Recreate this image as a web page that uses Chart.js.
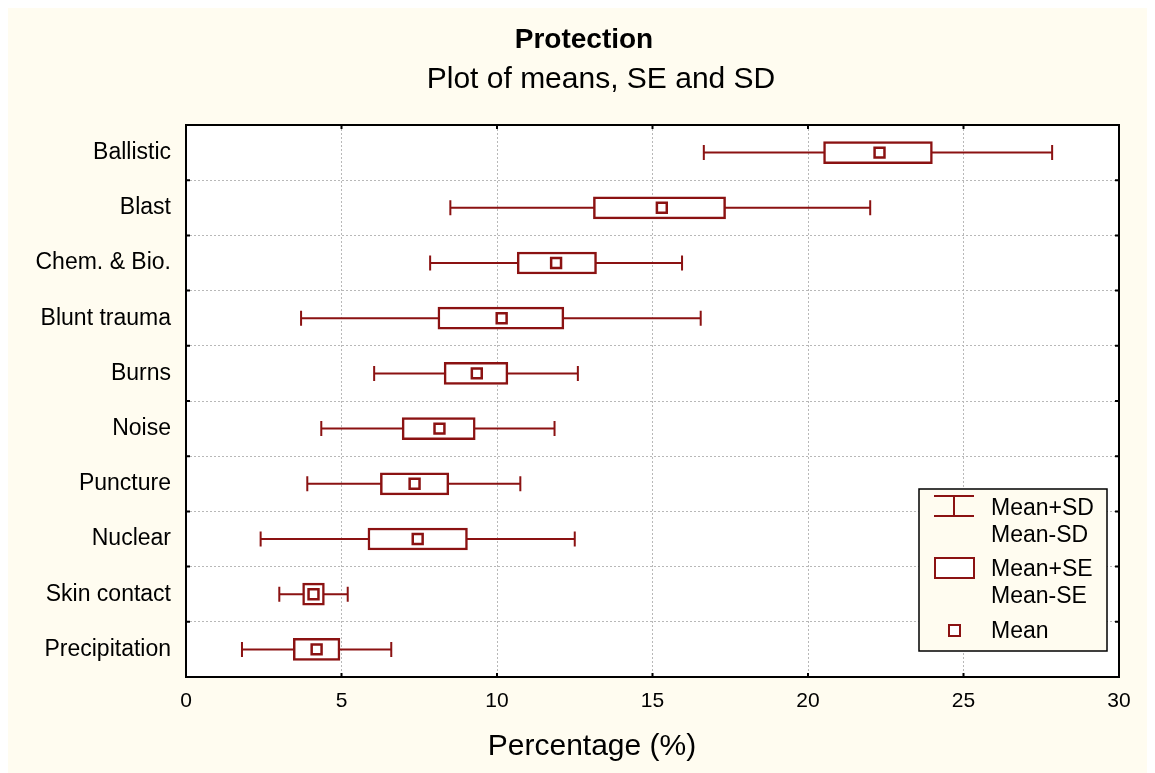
<!DOCTYPE html>
<html>
<head>
<meta charset="utf-8">
<script src="https://cdn.jsdelivr.net/npm/chart.js@4.4.1/dist/chart.umd.min.js"></script>
<style>
  body { margin: 0; background: #ffffff; }
</style>
</head>
<body>
<canvas id="chart-1" width="1155" height="773"></canvas>
<script>
// categories top to bottom
const categories = ['Ballistic', 'Blast', 'Chem. & Bio.', 'Blunt trauma', 'Burns', 'Noise', 'Puncture', 'Nuclear', 'Skin contact', 'Precipitation'];
// values (percent)
const means  = [22.3, 15.3, 11.9, 10.15, 9.35, 8.15, 7.35, 7.45, 4.1, 4.2];
const seLow  = [20.5, 13.1, 10.65, 8.1, 8.3, 6.95, 6.25, 5.85, 3.75, 3.45];
const seHigh = [24.0, 17.35, 13.2, 12.15, 10.35, 9.3, 8.45, 9.05, 4.45, 4.95];
const sdLow  = [16.65, 8.5, 7.85, 3.7, 6.05, 4.35, 3.9, 2.4, 3.0, 1.8];
const sdHigh = [27.85, 22.0, 15.95, 16.55, 12.6, 11.85, 10.75, 12.5, 5.2, 6.6];
const xMin = 0, xMax = 30, xStep = 5;

const RED = '#8b1212';
const CREAM = '#fffcf0';
const FONT = '"Liberation Sans", Arial, sans-serif';

Chart.defaults.font.family = FONT;
Chart.defaults.color = '#000';

// cream page + white plot area
const backdrop = {
    id: 'backdrop',
    beforeDraw(chart) {
        const {ctx, chartArea: a} = chart;
        ctx.save();
        ctx.fillStyle = CREAM;
        ctx.fillRect(8, 8, chart.width - 16, chart.height - 8);
        ctx.fillStyle = '#fff';
        ctx.fillRect(a.left, a.top, a.right - a.left, a.bottom - a.top);
        ctx.restore();
    }
};

// SD whiskers, drawn under the SE boxes
const whiskers = {
    id: 'whiskers',
    beforeDatasetsDraw(chart) {
        const {ctx, scales: {x, y}} = chart;
        ctx.save();
        ctx.strokeStyle = RED;
        ctx.lineWidth = 2;
        categories.forEach((c, i) => {
            const py = y.getPixelForValue(i);
            const x0 = x.getPixelForValue(sdLow[i]);
            const x1 = x.getPixelForValue(sdHigh[i]);
            ctx.beginPath();
            ctx.moveTo(x0, py); ctx.lineTo(x1, py);
            ctx.moveTo(x0, py - 7.5); ctx.lineTo(x0, py + 7.5);
            ctx.moveTo(x1, py - 7.5); ctx.lineTo(x1, py + 7.5);
            ctx.stroke();
        });
        ctx.restore();
    }
};

// black frame with inward tick marks, titles, legend
const frame = {
    id: 'frame',
    afterDraw(chart) {
        const {ctx, chartArea: a, scales: {x, y}} = chart;
        ctx.save();
        ctx.strokeStyle = '#000';
        ctx.lineWidth = 2;
        ctx.strokeRect(a.left, a.top, a.right - a.left, a.bottom - a.top);
        ctx.beginPath();
        for (let v = xMin; v <= xMax; v += xStep) {
            const px = x.getPixelForValue(v);
            ctx.moveTo(px, a.top); ctx.lineTo(px, a.top + 4);
            ctx.moveTo(px, a.bottom); ctx.lineTo(px, a.bottom - 4);
        }
        for (let i = 0; i < categories.length - 1; i++) {
            const py = (y.getPixelForValue(i) + y.getPixelForValue(i + 1)) / 2;
            ctx.moveTo(a.left, py); ctx.lineTo(a.left + 4, py);
            ctx.moveTo(a.right, py); ctx.lineTo(a.right - 4, py);
        }
        ctx.stroke();

        // titles
        ctx.fillStyle = '#000';
        ctx.textAlign = 'center';
        ctx.textBaseline = 'middle';
        ctx.font = 'bold 28px ' + FONT;
        ctx.fillText('Protection', 584, 40);
        ctx.font = '30px ' + FONT;
        ctx.fillText('Plot of means, SE and SD', 601, 80);
        ctx.fillText('Percentage (%)', 592, 747);

        // legend
        ctx.fillStyle = CREAM;
        ctx.fillRect(919, 489, 188, 162);
        ctx.lineWidth = 1.5;
        ctx.strokeRect(919, 489, 188, 162);
        ctx.strokeStyle = RED;
        ctx.lineWidth = 2;
        ctx.beginPath();
        ctx.moveTo(934, 496); ctx.lineTo(974, 496);
        ctx.moveTo(934, 516); ctx.lineTo(974, 516);
        ctx.moveTo(954, 496); ctx.lineTo(954, 516);
        ctx.stroke();
        ctx.fillStyle = '#fff';
        ctx.fillRect(935, 558, 39, 20);
        ctx.strokeRect(935, 558, 39, 20);
        ctx.fillRect(949, 625, 11, 11);
        ctx.strokeRect(949, 625, 11, 11);
        ctx.fillStyle = '#000';
        ctx.font = '23px ' + FONT;
        ctx.textAlign = 'left';
        ctx.textBaseline = 'alphabetic';
        ctx.fillText('Mean+SD', 991, 515);
        ctx.fillText('Mean-SD', 991, 542);
        ctx.fillText('Mean+SE', 991, 576);
        ctx.fillText('Mean-SE', 991, 603);
        ctx.fillText('Mean', 991, 638);
        ctx.restore();
    }
};

const ctx = document.getElementById('chart-1').getContext('2d');
const chart_1 = new Chart(ctx, {
    type: 'bar',
    data: {
        labels: categories,
        datasets: [
            {
                label: 'Mean',
                type: 'line',
                data: means,
                showLine: false,
                pointStyle: 'rect',
                pointRadius: 7,
                pointBorderWidth: 2.5,
                pointBackgroundColor: '#fff',
                pointBorderColor: RED,
                order: 0
            },
            {
                label: 'Mean±SE',
                data: categories.map((c, i) => [seLow[i], seHigh[i]]),
                backgroundColor: '#fff',
                borderColor: RED,
                borderWidth: 2.5,
                borderSkipped: false,
                barThickness: 22,
                order: 1
            }
        ]
    },
    options: {
        indexAxis: 'y',
        responsive: false,
        animation: false,
        events: [],
        layout: { padding: { left: 0, right: 36, top: 125, bottom: 0 } },
        plugins: {
            legend: { display: false },
            tooltip: { enabled: false }
        },
        scales: {
            x: {
                type: 'linear',
                min: xMin,
                max: xMax,
                ticks: { stepSize: xStep, padding: 12, font: { size: 21 } },
                grid: { color: '#b8b8b8', lineWidth: 1, drawTicks: false },
                border: { display: false, dash: [2, 2] },
                afterFit(scale) { scale.height = 96; }
            },
            y: {
                ticks: { padding: 15, font: { size: 23 } },
                grid: { color: '#b8b8b8', lineWidth: 1, drawTicks: false },
                border: { display: false, dash: [2, 2] },
                afterFit(scale) { scale.width = 186; }
            }
        }
    },
    plugins: [backdrop, whiskers, frame]
});
</script>
</body>
</html>
